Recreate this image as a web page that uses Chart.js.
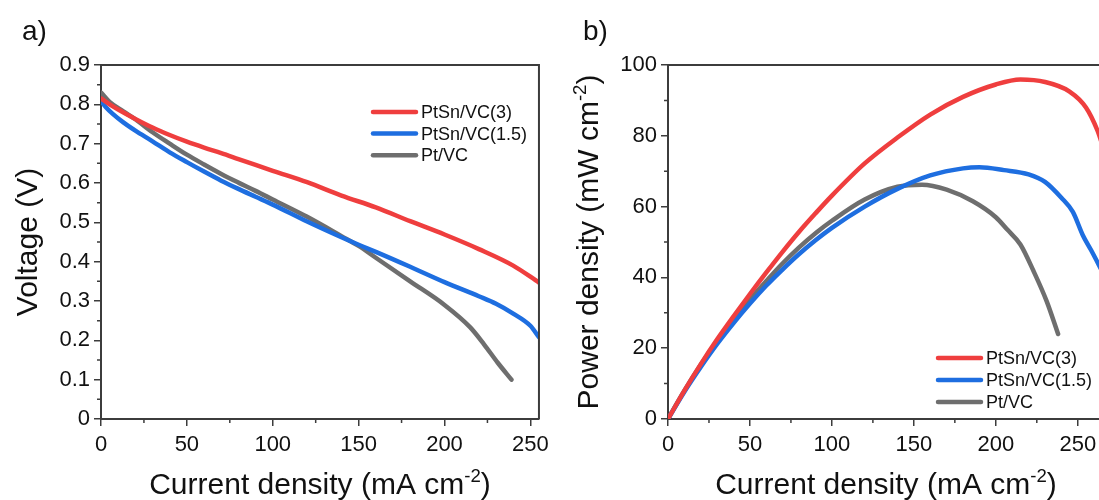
<!DOCTYPE html>
<html>
<head>
<meta charset="utf-8">
<script src="https://cdn.jsdelivr.net/npm/chart.js@4.4.1/dist/chart.umd.min.js"></script>
<style>
html, body { margin: 0; padding: 0; background: #fff; overflow: hidden; width: 1099px; height: 500px; }
.panel { position: absolute; top: 0; }
#wrapA { left: 0; }
#wrapB { left: 555px; }
</style>
</head>
<body>
<div class="panel" id="wrapA"><canvas id="chartA" width="555" height="500"></canvas></div>
<div class="panel" id="wrapB"><canvas id="chartB" width="600" height="500"></canvas></div>
<script>
var seriesNames = ['PtSn/VC(3)', 'PtSn/VC(1.5)', 'Pt/VC'];
var seriesColors = ['#EF3E3E', '#1E6EE0', '#6E6E6E'];

// a) voltage vs current density
var currentRedA = [0, 5, 10, 20, 30, 40, 50, 60, 70, 80, 90, 100, 120, 140, 160, 180, 200, 220, 240, 255];
var voltageRed = [0.815, 0.800, 0.787, 0.763, 0.741, 0.722, 0.705, 0.690, 0.676, 0.661, 0.646, 0.631, 0.602, 0.568, 0.538, 0.503, 0.469, 0.432, 0.390, 0.347];
var currentBlueA = [0, 3, 7, 13, 20, 30, 40, 50, 60, 70, 80, 90, 100, 120, 140, 150, 160, 180, 200, 220, 230, 240, 250, 255];
var voltageBlue = [0.808, 0.792, 0.775, 0.754, 0.733, 0.706, 0.678, 0.653, 0.629, 0.606, 0.585, 0.565, 0.545, 0.502, 0.462, 0.443, 0.425, 0.387, 0.348, 0.312, 0.293, 0.268, 0.237, 0.208];
var currentGrayA = [0, 5, 13, 20, 30, 40, 50, 60, 70, 80, 90, 100, 120, 140, 150, 160, 180, 200, 215, 223, 231, 239];
var voltageGray = [0.830, 0.806, 0.782, 0.762, 0.729, 0.700, 0.672, 0.647, 0.623, 0.601, 0.580, 0.558, 0.514, 0.465, 0.440, 0.410, 0.350, 0.290, 0.233, 0.190, 0.143, 0.100];

// b) power density vs current density
var currentRedB = [0, 10, 20, 30, 40, 50, 60, 70, 80, 90, 100, 120, 140, 160, 180, 200, 215, 230, 245, 255, 262, 266];
var powerRed = [0, 8, 15.5, 22.5, 29, 35.3, 41.4, 47.3, 52.9, 58.1, 63.1, 72.2, 79.5, 86, 91, 94.5, 95.9, 95.2, 92.5, 88, 81.5, 76];
var currentBlueB = [0, 10, 20, 30, 40, 50, 60, 70, 80, 90, 100, 120, 140, 160, 180, 190, 205, 220, 230, 240, 247, 253, 258, 263, 266];
var powerBlue = [0, 7.7, 14.7, 21.2, 27.1, 32.6, 37.7, 42.3, 46.6, 50.5, 54, 60, 65, 68.8, 70.8, 71.1, 70.3, 69.1, 67, 62.5, 58.5, 52, 47.8, 43.4, 40.7];
var currentGrayB = [0, 10, 20, 30, 40, 50, 60, 70, 80, 90, 100, 120, 140, 155, 170, 186, 200, 207, 215, 223, 231, 238];
var powerGray = [0, 8, 15.3, 22, 28.2, 33.8, 39, 44, 48.5, 52.5, 56, 62, 65.6, 66.2, 64.8, 61.5, 57, 53.5, 49.3, 41.8, 33.3, 24];

var fontFamily = '"Liberation Sans", Arial, sans-serif';
var axisColor = '#3c3c3c';
var textColor = '#111';

function points(xs, ys) {
    return xs.map(function (x, i) { return { x: x, y: ys[i] }; });
}

function makeSet(i, xs, ys) {
    return {
        label: seriesNames[i],
        data: points(xs, ys),
        borderColor: seriesColors[i],
        backgroundColor: seriesColors[i],
        borderWidth: 4.5,
        pointRadius: 0,
        fill: false,
        cubicInterpolationMode: 'monotone',
        borderCapStyle: 'round'
    };
}

function drawRich(ctx, parts, size, x, y) {
    // parts centred on x, baseline y
    var total = 0;
    parts.forEach(function (p) {
        ctx.font = (p.sup ? size * 0.62 : size) + 'px ' + fontFamily;
        p.w = ctx.measureText(p.t).width;
        total += p.w;
    });
    var cx = x - total / 2;
    parts.forEach(function (p) {
        ctx.font = (p.sup ? size * 0.62 : size) + 'px ' + fontFamily;
        ctx.fillText(p.t, cx, p.sup ? y - size * 0.4 : y);
        cx += p.w;
    });
}

var paperPlugin = {
    id: 'paper',
    afterDraw: function (chart, args, opts) {
        var ctx = chart.ctx, a = chart.chartArea;
        var xs = chart.scales.x, ys = chart.scales.y;
        ctx.save();

        // top and right frame
        ctx.strokeStyle = axisColor;
        ctx.lineWidth = 2;
        ctx.beginPath();
        ctx.moveTo(a.left, a.top);
        ctx.lineTo(a.right, a.top);
        ctx.lineTo(a.right, a.bottom);
        ctx.stroke();

        // minor ticks
        ctx.lineWidth = 1.5;
        ctx.beginPath();
        opts.xMinor.forEach(function (v) {
            var px = xs.getPixelForValue(v);
            ctx.moveTo(px, a.bottom);
            ctx.lineTo(px, a.bottom + 4);
        });
        opts.yMinor.forEach(function (v) {
            var py = ys.getPixelForValue(v);
            ctx.moveTo(a.left, py);
            ctx.lineTo(a.left - 4, py);
        });
        ctx.stroke();

        // axis titles
        ctx.fillStyle = textColor;
        ctx.textBaseline = 'alphabetic';
        ctx.textAlign = 'left';
        drawRich(ctx, opts.xTitle, 30, (a.left + a.right) / 2, 494);
        ctx.save();
        ctx.translate(opts.yTitleX, (a.top + a.bottom) / 2);
        ctx.rotate(-Math.PI / 2);
        drawRich(ctx, opts.yTitle, 30, 0, 0);
        ctx.restore();

        // panel label
        ctx.font = '28px ' + fontFamily;
        ctx.fillText(opts.label, opts.labelX, 40);

        // legend
        ctx.font = '18px ' + fontFamily;
        ctx.textBaseline = 'middle';
        chart.data.datasets.forEach(function (ds, i) {
            var y = opts.legendY + i * opts.legendRow;
            ctx.strokeStyle = ds.borderColor;
            ctx.lineWidth = 4.5;
            ctx.lineCap = 'round';
            ctx.beginPath();
            ctx.moveTo(opts.legendX, y);
            ctx.lineTo(opts.legendX + 43, y);
            ctx.stroke();
            ctx.fillStyle = textColor;
            ctx.fillText(ds.label, opts.legendX + 48, y + 1);
        });
        ctx.restore();
    }
};

function axisStyle() {
    return {
        grid: { drawOnChartArea: false, drawTicks: true, tickLength: 7, color: axisColor, lineWidth: 1.5 },
        border: { display: true, color: axisColor, width: 2 }
    };
}

function tickFont() {
    return { family: fontFamily, size: 22 };
}

var currentTitle = [{ t: 'Current density (mA cm' }, { t: '-2', sup: true }, { t: ')' }];

var xA = Object.assign(axisStyle(), {
    type: 'linear', min: 0, max: 255,
    afterFit: function (s) { s.height = 81; },
    ticks: { stepSize: 50, includeBounds: false, font: tickFont(), color: textColor, padding: 6, maxRotation: 0 }
});
var yA = Object.assign(axisStyle(), {
    min: 0, max: 0.9,
    afterFit: function (s) { s.width = 101; },
    ticks: {
        stepSize: 0.1, font: tickFont(), color: textColor, padding: 4,
        callback: function (v) { return v === 0 ? '0' : v.toFixed(1); }
    }
});

new Chart(document.getElementById('chartA'), {
    type: 'line',
    data: {
        datasets: [
            makeSet(0, currentRedA, voltageRed),
            makeSet(1, currentBlueA, voltageBlue),
            makeSet(2, currentGrayA, voltageGray)
        ]
    },
    options: {
        responsive: false,
        animation: false,
        layout: { padding: { left: 0, top: 65, right: 14, bottom: 0 } },
        scales: { x: xA, y: yA },
        plugins: {
            legend: { display: false },
            tooltip: { enabled: false },
            paper: {
                label: 'a)', labelX: 22,
                xTitle: currentTitle,
                yTitle: [{ t: 'Voltage (V)' }], yTitleX: 37,
                xMinor: [25, 75, 125, 175, 225],
                yMinor: [0.05, 0.15, 0.25, 0.35, 0.45, 0.55, 0.65, 0.75, 0.85],
                legendX: 373, legendY: 112, legendRow: 21.6
            }
        }
    },
    plugins: [paperPlugin]
});

var xB = Object.assign(axisStyle(), {
    type: 'linear', min: 0, max: 266,
    afterFit: function (s) { s.height = 81; },
    ticks: { stepSize: 50, includeBounds: false, font: tickFont(), color: textColor, padding: 6, maxRotation: 0 }
});
var yB = Object.assign(axisStyle(), {
    min: 0, max: 100,
    afterFit: function (s) { s.width = 113; },
    ticks: { stepSize: 20, font: tickFont(), color: textColor, padding: 4 }
});

new Chart(document.getElementById('chartB'), {
    type: 'line',
    data: {
        datasets: [
            makeSet(0, currentRedB, powerRed),
            makeSet(1, currentBlueB, powerBlue),
            makeSet(2, currentGrayB, powerGray)
        ]
    },
    options: {
        responsive: false,
        animation: false,
        layout: { padding: { left: 0, top: 65, right: 51, bottom: 0 } },
        scales: { x: xB, y: yB },
        plugins: {
            legend: { display: false },
            tooltip: { enabled: false },
            paper: {
                label: 'b)', labelX: 28,
                xTitle: currentTitle,
                yTitle: [{ t: 'Power density (mW cm' }, { t: '-2', sup: true }, { t: ')' }], yTitleX: 43,
                xMinor: [25, 75, 125, 175, 225],
                yMinor: [10, 30, 50, 70, 90],
                legendX: 383, legendY: 358, legendRow: 22
            }
        }
    },
    plugins: [paperPlugin]
});
</script>
</body>
</html>
